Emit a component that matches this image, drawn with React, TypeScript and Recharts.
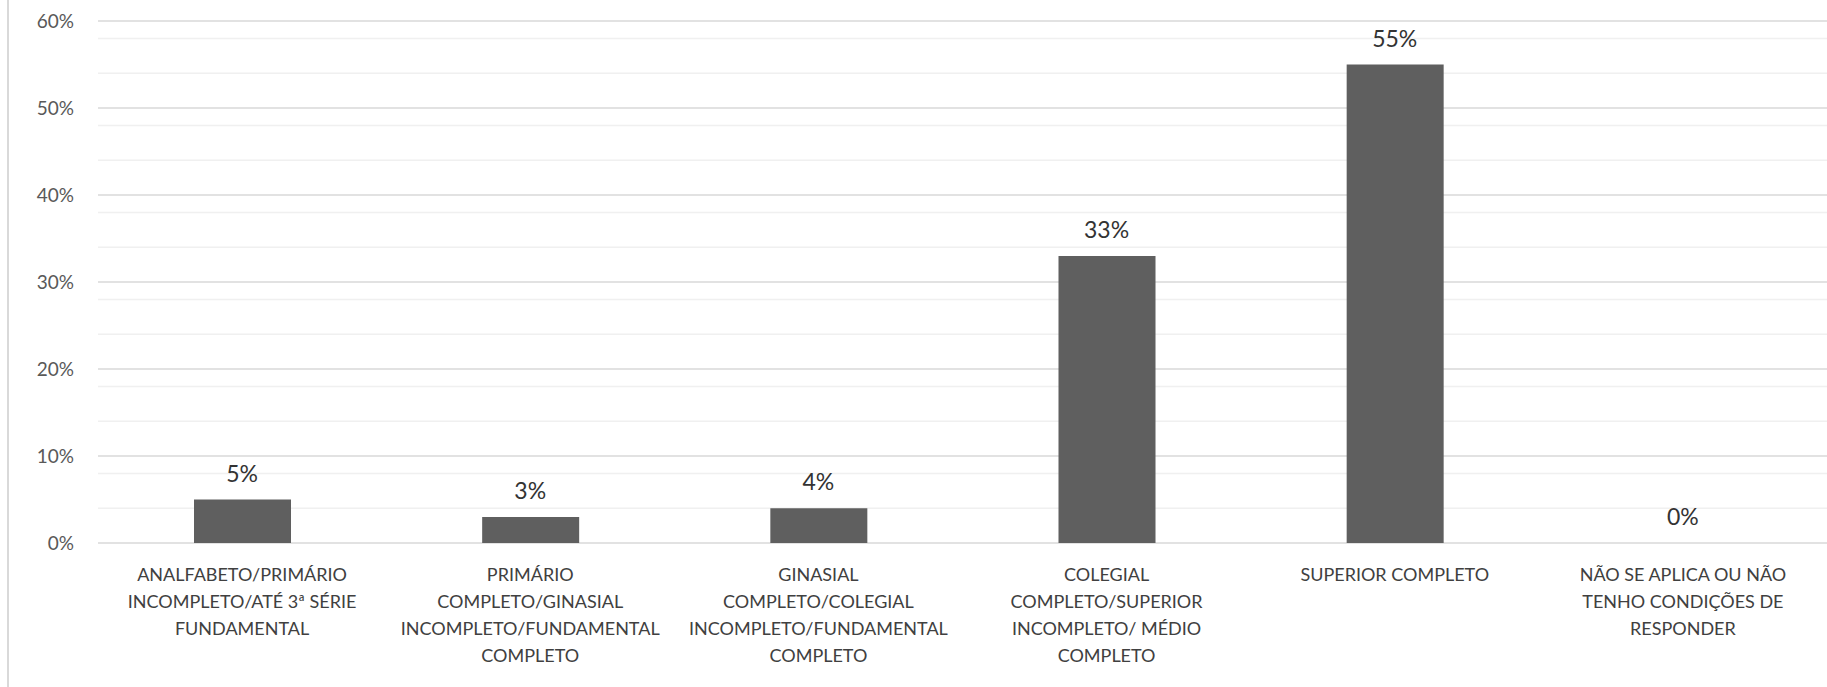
import { BarChart, Bar, XAxis, YAxis, CartesianGrid, ReferenceDot } from 'recharts';

const categories = [
  'ANALFABETO/PRIMÁRIO|INCOMPLETO/ATÉ 3ª SÉRIE|FUNDAMENTAL',
  'PRIMÁRIO|COMPLETO/GINASIAL|INCOMPLETO/FUNDAMENTAL|COMPLETO',
  'GINASIAL|COMPLETO/COLEGIAL|INCOMPLETO/FUNDAMENTAL|COMPLETO',
  'COLEGIAL|COMPLETO/SUPERIOR|INCOMPLETO/ MÉDIO|COMPLETO',
  'SUPERIOR COMPLETO',
  'NÃO SE APLICA OU NÃO|TENHO CONDIÇÕES DE|RESPONDER',
];
const shares = [0.05, 0.03, 0.04, 0.33, 0.55, 0];
const yTicks = [0, 0.1, 0.2, 0.3, 0.4, 0.5, 0.6];
const minorTicks = [0.02, 0.04, 0.06, 0.08, 0.12, 0.14, 0.16, 0.18, 0.22, 0.24, 0.26, 0.28, 0.32, 0.34, 0.36, 0.38, 0.42, 0.44, 0.46, 0.48, 0.52, 0.54, 0.56, 0.58];

const data = categories.map((name, i) => ({ name, value: shares[i] }));

const FONT = 'Lato, "Open Sans", sans-serif';
const pct = (v: number) => `${Math.round(v * 100)}%`;

const CategoryTick = ({ x, y, payload }: any) => {
  const lines = String(payload.value).split('|');
  return (
    <text x={x} y={y} textAnchor="middle" fontFamily={FONT} fontSize={18} fill="#404040">
      {lines.map((l, i) => (
        <tspan key={i} x={x} dy={i === 0 ? 30 : 27}>{l}</tspan>
      ))}
    </text>
  );
};

// drawn for every bar, including the zero one, which Recharts skips in a LabelList
const ValueLabel = ({ viewBox, value }: any) => (
  <text
    x={viewBox.cx ?? viewBox.x}
    y={(viewBox.cy ?? viewBox.y) - 18}
    textAnchor="middle"
    fontFamily={FONT}
    fontSize={23}
    fill="#333333"
  >
    {value}
  </text>
);

export default function App() {
  return (
    <div style={{ position: 'absolute', left: 0, top: 0, width: 1827, height: 687, background: '#fff' }}>
      <div style={{ position: 'absolute', left: 7, top: 0, width: 2, height: 687, background: '#d9d9d9' }} />
      <BarChart
        width={1827}
        height={687}
        data={data}
        margin={{ top: 21, right: 0, left: 0, bottom: 0 }}
      >
        <CartesianGrid vertical={false} horizontalValues={minorTicks} stroke="#f0f0f0" strokeWidth={1.5} />
        <CartesianGrid vertical={false} horizontalValues={yTicks} stroke="#d9d9d9" strokeWidth={1.5} />
        <XAxis
          dataKey="name"
          height={144}
          axisLine={false}
          tickLine={false}
          interval={0}
          tick={<CategoryTick />}
        />
        <YAxis
          width={98}
          domain={[0, 0.6]}
          ticks={yTicks}
          tickFormatter={pct}
          axisLine={false}
          tickLine={false}
          tickMargin={18}
          tick={{ fontFamily: FONT, fontSize: 19, fill: '#595959' }}
        />
        <Bar dataKey="value" fill="#5f5f5f" barSize={97} isAnimationActive={false} />
        {data.map((d) => (
          <ReferenceDot
            key={d.name}
            x={d.name}
            y={d.value}
            r={0}
            fill="none"
            stroke="none"
            ifOverflow="visible"
            label={<ValueLabel value={pct(d.value)} />}
          />
        ))}
      </BarChart>
    </div>
  );
}
